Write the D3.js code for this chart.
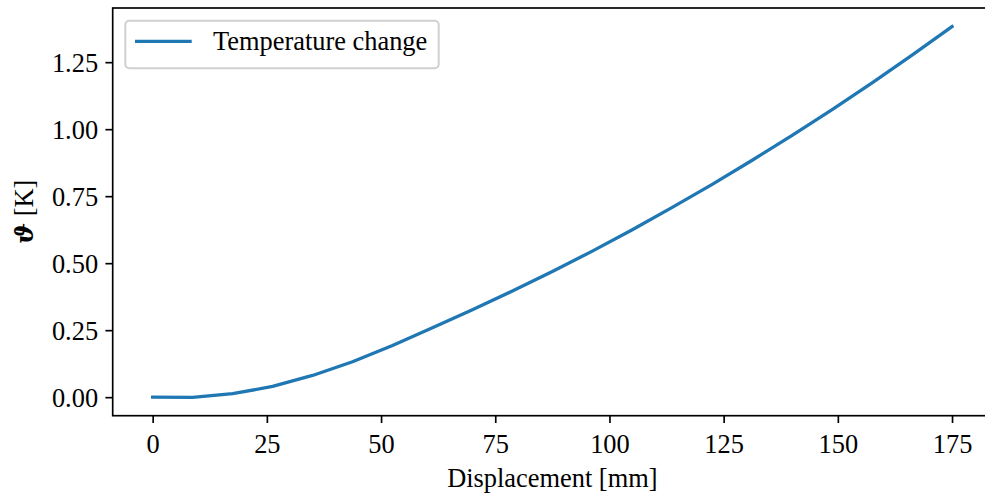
<!DOCTYPE html>
<html>
<head>
<meta charset="utf-8">
<script src="https://cdn.jsdelivr.net/npm/d3@7"></script>
<style>
  body { margin: 0; background: #fff; }
  svg { display: block; }
  text { font-family: "Liberation Serif", "Times New Roman", serif; fill: #000; }
</style>
</head>
<body>
<svg id="chart" width="985" height="501"></svg>
<script>
// ---- data ----
const displacement = [0, 8.75, 17.5, 26.25, 35, 43.75, 52.5, 61.25, 70, 78.75, 87.5,
  96.25, 105, 113.75, 122.5, 131.25, 140, 148.75, 157.5, 166.25, 175];
const temperatureChange = [0.0, -0.001, 0.013, 0.04, 0.081, 0.132, 0.193, 0.259, 0.326, 0.396, 0.469,
  0.545, 0.625, 0.708, 0.794, 0.884, 0.977, 1.073, 1.173, 1.276, 1.383];
const xTicks = [0, 25, 50, 75, 100, 125, 150, 175];
const yTicks = [0, 0.25, 0.5, 0.75, 1.0, 1.25];
const seriesName = "Temperature change";
const xLabel = "Displacement [mm]";

// ---- layout ----
const mLeft = 112.7, mRight = 992, mTop = 8, mBottom = 415.7;
const fs = 26.4;
const svg = d3.select("#chart");

function padded(ext) {
  const d = ext[1] - ext[0];
  return [ext[0] - 0.05 * d, ext[1] + 0.05 * d];
}
const x = d3.scaleLinear().domain(padded(d3.extent(displacement))).range([mLeft, mRight]);
const y = d3.scaleLinear().domain(padded([0, d3.max(temperatureChange)])).range([mBottom, mTop]);

const tickLen = 7.3, tickW = 1.67;

// x axis
const gx = svg.append("g").attr("transform", `translate(0,${mBottom})`)
  .call(d3.axisBottom(x).tickValues(xTicks).tickFormat(d3.format("d"))
    .tickSize(tickLen).tickPadding(7.3).tickSizeOuter(0));
gx.select(".domain").remove();
gx.selectAll(".tick line").attr("stroke", "#000").attr("stroke-width", tickW);
gx.selectAll(".tick text").attr("font-size", fs).attr("dy", 22.7)
  .style("font-family", "'Liberation Serif', serif");

// y axis
const gy = svg.append("g").attr("transform", `translate(${mLeft},0)`)
  .call(d3.axisLeft(y).tickValues(yTicks).tickFormat(d3.format(".2f"))
    .tickSize(tickLen).tickPadding(7.3).tickSizeOuter(0));
gy.select(".domain").remove();
gy.selectAll(".tick line").attr("stroke", "#000").attr("stroke-width", tickW);
gy.selectAll(".tick text").attr("font-size", fs).attr("dy", 9)
  .style("font-family", "'Liberation Serif', serif");

// line
const line = d3.line().x((d, i) => x(displacement[i])).y(d => y(d));
svg.append("path").datum(temperatureChange)
  .attr("d", line).attr("fill", "none")
  .attr("stroke", "#1f77b4").attr("stroke-width", 3.3)
  .attr("stroke-linejoin", "round").attr("stroke-linecap", "square");

// spines
svg.append("rect").attr("x", mLeft).attr("y", mTop)
  .attr("width", mRight - mLeft).attr("height", mBottom - mTop)
  .attr("fill", "none").attr("stroke", "#000").attr("stroke-width", 1.67);

// axis labels
svg.append("text").attr("x", (mLeft + mRight) / 2).attr("y", 487)
  .attr("text-anchor", "middle").attr("font-size", fs).text(xLabel);

const yl = svg.append("text")
  .attr("transform", `translate(33,${(mTop + mBottom) / 2}) rotate(-90)`)
  .attr("text-anchor", "middle").attr("font-size", fs);
yl.append("tspan").style("font-family", "'DejaVu Serif', serif").style("font-style", "italic")
  .style("font-weight", "bold").attr("font-size", 25).text("ϑ");
yl.append("tspan").text(" [K]");

// legend
const lg = svg.append("g");
lg.append("rect").attr("x", 125.3).attr("y", 20.7).attr("width", 313.4).attr("height", 47.6)
  .attr("rx", 4).attr("fill", "#fff").attr("fill-opacity", 0.8)
  .attr("stroke", "#d0d0d0").attr("stroke-width", 2);
lg.append("line").attr("x1", 135).attr("x2", 191.7).attr("y1", 41.3).attr("y2", 41.3)
  .attr("stroke", "#1f77b4").attr("stroke-width", 3.3);
lg.append("text").attr("x", 213).attr("y", 50).attr("font-size", fs).text(seriesName);
</script>
</body>
</html>
